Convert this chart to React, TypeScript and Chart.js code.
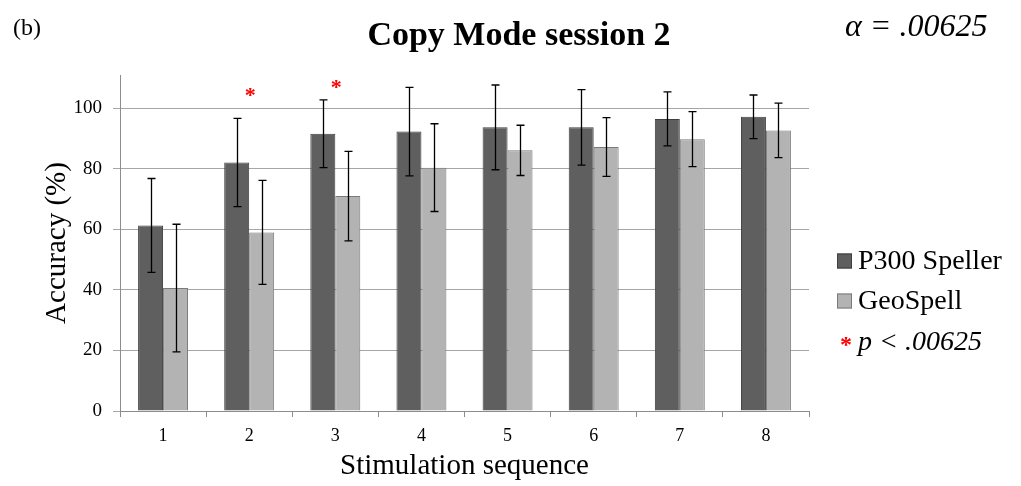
import React, { useEffect, useRef } from "react";
import { Chart, registerables } from "chart.js";

Chart.register(...registerables);

const categories = ["1", "2", "3", "4", "5", "6", "7", "8"];
const p300Values = [61.3, 82.1, 91.6, 92.3, 93.7, 93.7, 96.5, 97.2];
const p300Errors = [15.5, 14.6, 11.2, 14.6, 14.0, 12.5, 8.9, 7.2];
const geoValues = [40.6, 59.0, 71.0, 80.4, 86.1, 87.2, 89.8, 92.7];
const geoErrors = [21.1, 17.2, 14.8, 14.5, 8.3, 9.7, 9.1, 9.0];
const starCategories = ["2", "3"];
const starValues = [105.4, 107.8];
const yTicks = [0, 20, 40, 60, 80, 100];

const SERIF = "'Liberation Serif', 'Times New Roman', serif";

const overlayPlugin = {
  id: "overlay",
  afterDatasetsDraw(chart: any) {
    const ctx = chart.ctx;
    const x = chart.scales.x;
    const y = chart.scales.y;
    ctx.save();
    ctx.strokeStyle = "#000";
    ctx.lineWidth = 1.3;
    const sets = [
      { idx: 0, vals: p300Values, errs: p300Errors },
      { idx: 1, vals: geoValues, errs: geoErrors },
    ];
    sets.forEach((s) => {
      const meta = chart.getDatasetMeta(s.idx);
      meta.data.forEach((bar: any, i: number) => {
        const cx = Math.round(bar.x) + 0.5;
        const top = y.getPixelForValue(s.vals[i] + s.errs[i]);
        const bot = y.getPixelForValue(s.vals[i] - s.errs[i]);
        ctx.beginPath();
        ctx.moveTo(cx, top);
        ctx.lineTo(cx, bot);
        ctx.moveTo(cx - 4, top);
        ctx.lineTo(cx + 4, top);
        ctx.moveTo(cx - 4, bot);
        ctx.lineTo(cx + 4, bot);
        ctx.stroke();
      });
    });
    ctx.fillStyle = "#ff0000";
    ctx.font = `bold 22px ${SERIF}`;
    ctx.textAlign = "center";
    ctx.textBaseline = "middle";
    starCategories.forEach((c, i) => {
      const ci = categories.indexOf(c);
      const px = x.getPixelForValue(ci) + 1;
      const py = y.getPixelForValue(starValues[i]) + 4;
      ctx.fillText("*", px, py);
    });
    ctx.restore();
  },
  afterDraw(chart: any) {
    const ctx = chart.ctx;
    ctx.save();
    ctx.fillStyle = "#000";
    ctx.textBaseline = "alphabetic";
    ctx.textAlign = "left";
    ctx.font = `24px ${SERIF}`;
    ctx.fillText("(b)", 13, 35);
    ctx.textAlign = "center";
    ctx.font = `bold 34px ${SERIF}`;
    ctx.fillText("Copy Mode session 2", 519, 45);
    ctx.textAlign = "left";
    ctx.font = `italic 32px ${SERIF}`;
    ctx.fillText("\u03b1 = .00625", 845, 36);
    const ds = chart.data.datasets;
    const legendX = 837;
    const rows = [261, 301];
    ctx.font = `28px ${SERIF}`;
    ds.forEach((d: any, i: number) => {
      const cy = rows[i];
      ctx.fillStyle = d.backgroundColor;
      ctx.fillRect(legendX, cy - 7.5, 15, 15);
      ctx.strokeStyle = d.borderColor;
      ctx.lineWidth = 1;
      ctx.strokeRect(legendX + 0.5, cy - 7, 14, 14);
      ctx.fillStyle = "#000";
      ctx.textBaseline = "middle";
      ctx.fillText(d.label, legendX + 21, cy + 1);
    });
    ctx.fillStyle = "#ff0000";
    ctx.font = `bold 24px ${SERIF}`;
    ctx.textBaseline = "middle";
    ctx.fillText("*", legendX + 3, 346);
    ctx.fillStyle = "#000";
    ctx.font = `italic 28px ${SERIF}`;
    ctx.fillText("p < .00625", legendX + 21, 343);
    ctx.restore();
  },
};

export default function App() {
  const ref = useRef<HTMLCanvasElement | null>(null);
  useEffect(() => {
    document.body.style.margin = "0";
    const canvas = ref.current!;
    const chart = new Chart(canvas, {
      type: "bar",
      data: {
        labels: categories,
        datasets: [
          {
            label: "P300 Speller",
            data: p300Values,
            backgroundColor: "#5f5f5f",
            borderColor: "#3f3f3f",
            borderWidth: 1,
          },
          {
            label: "GeoSpell",
            data: geoValues,
            backgroundColor: "#b3b3b3",
            borderColor: "#7a7a7a",
            borderWidth: 1,
          },
        ],
      },
      options: {
        responsive: false,
        animation: false,
        layout: { padding: { top: 75, right: 212, left: 0, bottom: 0 } },
        datasets: { bar: { categoryPercentage: 0.58, barPercentage: 1.0 } },
        plugins: {
          legend: { display: false },
          title: { display: false },
          tooltip: { enabled: false },
        },
        scales: {
          x: {
            grid: {
              offset: true,
              drawOnChartArea: false,
              drawTicks: true,
              tickLength: 6,
              color: "#8c8c8c",
            },
            border: { color: "#8c8c8c", width: 1 },
            ticks: {
              color: "#000",
              font: { family: SERIF, size: 18 },
              padding: 8,
            },
            title: {
              display: true,
              text: "Stimulation sequence",
              color: "#000",
              font: { family: SERIF, size: 29 },
              padding: { top: 0, bottom: 2 },
            },
            afterFit(scale: any) {
              scale.height = 75;
            },
          },
          y: {
            min: 0,
            max: 111,
            afterBuildTicks(scale: any) {
              scale.ticks = yTicks.map((v) => ({ value: v }));
            },
            grid: {
              color: "#a6a6a6",
              lineWidth: 1,
              drawTicks: true,
              tickLength: 7,
            },
            border: { color: "#8c8c8c", width: 1 },
            ticks: {
              color: "#000",
              font: { family: SERIF, size: 19 },
              padding: 11,
            },
            title: {
              display: true,
              text: "Accuracy (%)",
              color: "#000",
              font: { family: SERIF, size: 29 },
              padding: { top: 40, bottom: 0 },
            },
            afterFit(scale: any) {
              scale.width = 120;
            },
          },
        },
      },
      plugins: [overlayPlugin],
    });
    return () => chart.destroy();
  }, []);
  return <canvas ref={ref} width={1021} height={486} style={{ display: "block" }} />;
}
